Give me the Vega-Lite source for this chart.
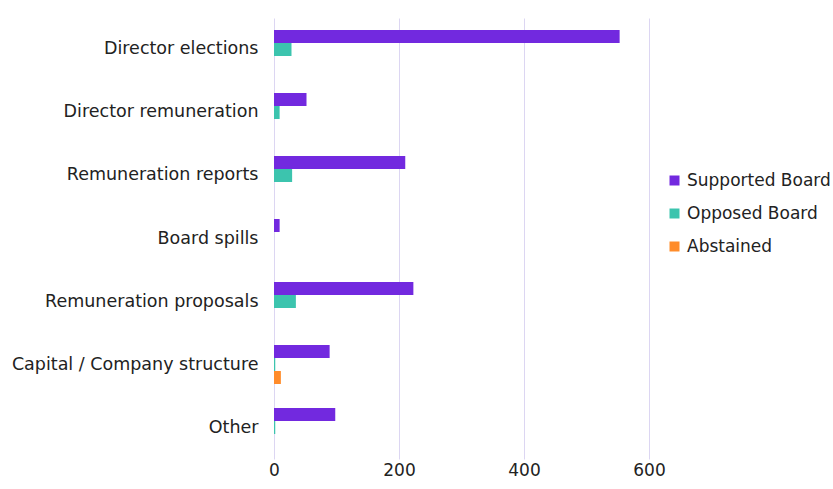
{
  "$schema": "https://vega.github.io/schema/vega-lite/v6.json",
  "autosize": "none",
  "width": 375,
  "height": 441,
  "padding": {"left": 274, "top": 18, "right": 184, "bottom": 30},
  "background": "white",
  "config": {
    "font": "DejaVu Sans",
    "view": {"stroke": null}
  },
  "data": {
    "values": [
      {"category": "Director elections", "series": "Supported Board", "value": 553},
      {"category": "Director elections", "series": "Opposed Board", "value": 28},
      {"category": "Director elections", "series": "Abstained", "value": 0},
      {"category": "Director remuneration", "series": "Supported Board", "value": 52},
      {"category": "Director remuneration", "series": "Opposed Board", "value": 9},
      {"category": "Director remuneration", "series": "Abstained", "value": 0},
      {"category": "Remuneration reports", "series": "Supported Board", "value": 210},
      {"category": "Remuneration reports", "series": "Opposed Board", "value": 29},
      {"category": "Remuneration reports", "series": "Abstained", "value": 0},
      {"category": "Board spills", "series": "Supported Board", "value": 9},
      {"category": "Board spills", "series": "Opposed Board", "value": 0},
      {"category": "Board spills", "series": "Abstained", "value": 0},
      {"category": "Remuneration proposals", "series": "Supported Board", "value": 223},
      {"category": "Remuneration proposals", "series": "Opposed Board", "value": 35},
      {"category": "Remuneration proposals", "series": "Abstained", "value": 0},
      {"category": "Capital / Company structure", "series": "Supported Board", "value": 89},
      {"category": "Capital / Company structure", "series": "Opposed Board", "value": 2},
      {"category": "Capital / Company structure", "series": "Abstained", "value": 11},
      {"category": "Other", "series": "Supported Board", "value": 98},
      {"category": "Other", "series": "Opposed Board", "value": 2},
      {"category": "Other", "series": "Abstained", "value": 0}
    ]
  },
  "mark": {"type": "bar"},
  "encoding": {
    "y": {
      "field": "category",
      "type": "nominal",
      "sort": ["Director elections", "Director remuneration", "Remuneration reports", "Board spills", "Remuneration proposals", "Capital / Company structure", "Other"],
      "scale": {"paddingInner": 0.381, "paddingOuter": 0.19},
      "axis": {
        "title": null,
        "domain": false,
        "ticks": false,
        "labelFontSize": 17.5,
        "labelColor": "#222222",
        "labelPadding": 16,
        "labelLimit": 400
      }
    },
    "yOffset": {
      "field": "series",
      "type": "nominal",
      "sort": ["Supported Board", "Opposed Board", "Abstained"]
    },
    "x": {
      "field": "value",
      "type": "quantitative",
      "scale": {"domain": [0, 600], "nice": false},
      "axis": {
        "title": null,
        "values": [0, 200, 400, 600],
        "domain": false,
        "ticks": false,
        "grid": true,
        "gridColor": "#dcd6f2",
        "gridWidth": 1,
        "labelFontSize": 17,
        "labelColor": "#222222",
        "labelPadding": 3,
        "labelFlush": false
      }
    },
    "color": {
      "field": "series",
      "type": "nominal",
      "sort": ["Supported Board", "Opposed Board", "Abstained"],
      "scale": {
        "domain": ["Supported Board", "Opposed Board", "Abstained"],
        "range": ["#7229df", "#3cc4ae", "#ff8c2a"]
      },
      "legend": {
        "title": null,
        "orient": "none",
        "legendX": 392,
        "legendY": 154,
        "symbolType": "square",
        "symbolSize": 100,
        "symbolStrokeWidth": 0,
        "labelFontSize": 17,
        "labelColor": "#222222",
        "labelOffset": 4,
        "labelLimit": 300,
        "rowPadding": 15
      }
    }
  }
}
